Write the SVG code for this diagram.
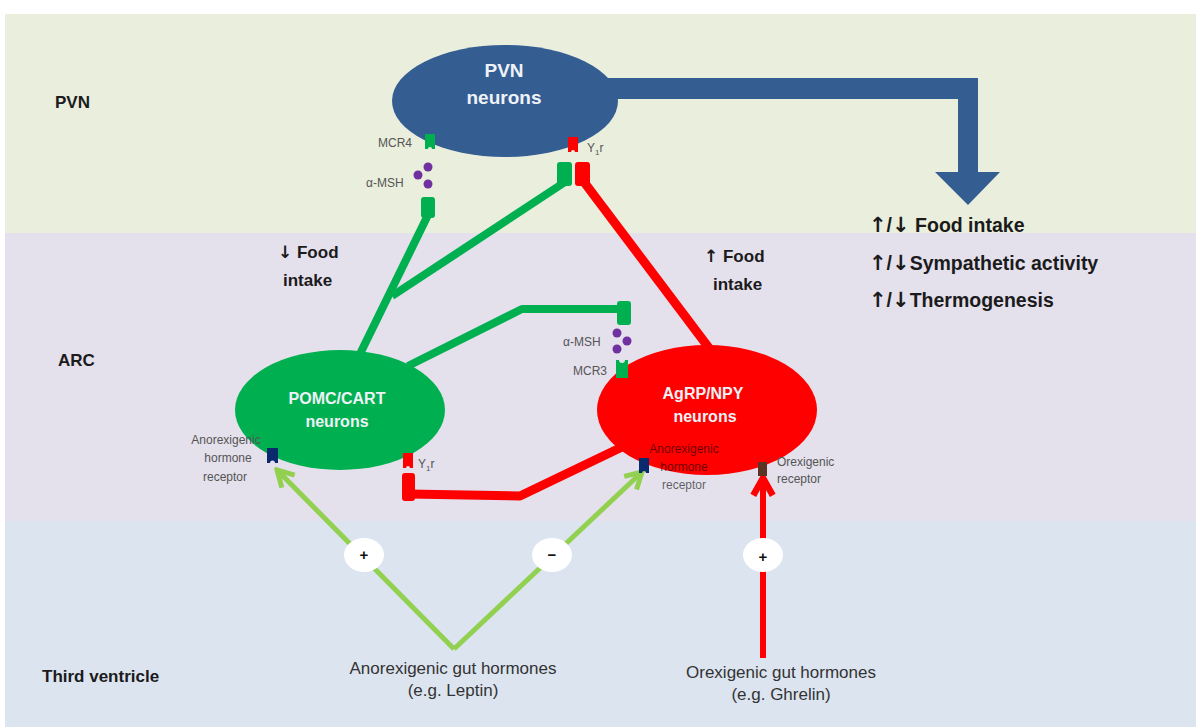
<svg xmlns="http://www.w3.org/2000/svg" width="1198" height="727" viewBox="0 0 1198 727">
<style>
.bold{font-family:"Liberation Sans",Arial,sans-serif;font-weight:bold;font-size:17px;fill:#1b1b1b}
.right{font-size:19.5px}
.arw{font-family:"DejaVu Sans",sans-serif;font-weight:bold}
.arw2{font-family:"DejaVu Sans",sans-serif;font-weight:bold;font-size:21px}
.ntext{font-family:"Liberation Sans",Arial,sans-serif;font-weight:bold;fill:#eef2f7;text-anchor:middle}
.small{font-family:"Liberation Sans",Arial,sans-serif;font-size:12px;fill:#555}
.gut{font-family:"Liberation Sans",Arial,sans-serif;font-size:17px;fill:#333;text-anchor:middle}
.sign{font-family:"Liberation Sans",Arial,sans-serif;font-weight:bold;font-size:15px;fill:#111;text-anchor:middle}
.gline{fill:none;stroke:#00B050;stroke-width:8;stroke-linejoin:round}
.rline{fill:none;stroke:#FF0000;stroke-width:9;stroke-linejoin:round}
.lg{fill:none;stroke:#92D050;stroke-width:5}
.msh{fill:#7030A0}
</style>
<defs>
<marker id="lgArrow" viewBox="0 0 24 24" refX="21" refY="12" markerWidth="24" markerHeight="24" markerUnits="userSpaceOnUse" orient="auto">
<path d="M5,3 L21,12 L5,21" fill="none" stroke="#92D050" stroke-width="5"/>
</marker>
<marker id="rArrow" viewBox="0 0 24 24" refX="21" refY="12" markerWidth="26" markerHeight="26" markerUnits="userSpaceOnUse" orient="auto">
<path d="M5,3 L21,12 L5,21" fill="none" stroke="#FF0000" stroke-width="6"/>
</marker>
</defs>

<g id="bands">
<rect x="5" y="14" width="1191" height="219" fill="#EAEEDD"/>
<rect x="5" y="233" width="1191" height="288" fill="#E4E0EC"/>
<rect x="5" y="521" width="1191" height="206" fill="#DCE4F0"/>
<text class="bold" x="55" y="108">PVN</text>
<text class="bold" x="58" y="366">ARC</text>
<text class="bold" x="42" y="682">Third ventricle</text>
</g>

<g id="connectors">
<polygon id="pvn-output" points="600,78 978,78 978,172 1000,172 968,205 935,172 958,172 958,99 600,99" fill="#345D92"/>
<polyline class="gline" points="428,215 358,358"/>
<polyline class="gline" points="392,296 565,182"/>
<polyline class="gline" points="408,366 522,309 624,309"/>
<polyline class="rline" points="584,182 712,352"/>
<polyline class="rline" points="408,494 520,496 622,447"/>
<line class="lg" x1="454" y1="649" x2="277" y2="470" marker-end="url(#lgArrow)"/>
<line class="lg" x1="454" y1="649" x2="642" y2="472" marker-end="url(#lgArrow)"/>
<line x1="763" y1="658" x2="763" y2="478" stroke="#FF0000" stroke-width="6" marker-end="url(#rArrow)"/>
</g>

<g id="pvn-node">
<ellipse cx="505" cy="101" rx="113" ry="56" fill="#345D92"/>
<text class="ntext" x="504" y="77" font-size="19">PVN</text>
<text class="ntext" x="504" y="104" font-size="19">neurons</text>
</g>

<g id="pomc-node">
<ellipse cx="340" cy="410" rx="105" ry="60" fill="#00B050"/>
<text class="ntext" x="337" y="404" font-size="16">POMC/CART</text>
<text class="ntext" x="337" y="427" font-size="16">neurons</text>
</g>

<g id="agrp-node">
<ellipse cx="707" cy="410" rx="110" ry="65" fill="#FF0000"/>
<text class="ntext" x="703" y="399" font-size="16">AgRP/NPY</text>
<text class="ntext" x="705" y="422" font-size="16">neurons</text>
</g>

<g id="pvn-receptors">
<path d="M425,134 h10 v15 h-3 a2,2 0 0 0 -4,0 h-3 z" fill="#00B050"/>
<text class="small" x="378" y="147">MCR4</text>
<circle class="msh" cx="428" cy="167" r="4.5"/>
<circle class="msh" cx="418" cy="175" r="4.5"/>
<circle class="msh" cx="428" cy="184" r="4.5"/>
<text class="small" x="366" y="187">α-MSH</text>
<rect x="421" y="197" width="14" height="21" rx="3" fill="#00B050"/>
<path d="M568,137 h10 v15 h-3 a2,2 0 0 0 -4,0 h-3 z" fill="#FF0000"/>
<text class="small" x="587" y="152" font-size="13">Y<tspan font-size="8" dy="3">1</tspan><tspan dy="-3">r</tspan></text>
<rect x="557" y="162" width="15" height="24" rx="3" fill="#00B050"/>
<rect x="575" y="162" width="15" height="24" rx="3" fill="#FF0000"/>
</g>

<g id="arc-receptors">
<rect x="617" y="301" width="14" height="24" rx="3" fill="#00B050"/>
<circle class="msh" cx="617" cy="333" r="4.5"/>
<circle class="msh" cx="627" cy="341" r="4.5"/>
<circle class="msh" cx="617" cy="349" r="4.5"/>
<text class="small" x="563" y="346">α-MSH</text>
<path d="M616,378 h12 v-18 h-3 a3,3 0 0 1 -6,0 h-3 z" fill="#00B050"/>
<text class="small" x="573" y="375">MCR3</text>

<path d="M267,448 h11 v15 h-3 a2.5,2.5 0 0 0 -5,0 h-3 z" fill="#0A2A6E"/>
<text class="small" x="226" y="444" text-anchor="middle">Anorexigenic</text>
<text class="small" x="228" y="462" text-anchor="middle">hormone</text>
<text class="small" x="225" y="481" text-anchor="middle">receptor</text>

<path d="M403,453 h10 v15 h-3 a2,2 0 0 0 -4,0 h-3 z" fill="#FF0000"/>
<text class="small" x="418" y="468" font-size="13">Y<tspan font-size="8" dy="3">1</tspan><tspan dy="-3">r</tspan></text>
<rect x="402" y="473" width="13" height="28" rx="3" fill="#FF0000"/>

<path d="M639,458 h10 v15 h-3 a2,2 0 0 0 -4,0 h-3 z" fill="#0A2A6E"/>
<g fill="#000" fill-opacity="0.6">
<text class="small" x="684" y="453" text-anchor="middle" style="fill:#000">Anorexigenic</text>
<text class="small" x="684" y="471" text-anchor="middle" style="fill:#000">hormone</text>
<text class="small" x="684" y="489" text-anchor="middle" style="fill:#000">receptor</text>
</g>

<path d="M758,462 h9 v14 h-9 z" fill="#5B3426"/>
<text class="small" x="777" y="466">Orexigenic</text>
<text class="small" x="777" y="483">receptor</text>
</g>

<g id="signs">
<ellipse cx="364" cy="555" rx="20" ry="17" fill="#fff"/>
<text class="sign" x="364" y="560">+</text>
<ellipse cx="552" cy="555" rx="20" ry="17" fill="#fff"/>
<text class="sign" x="552" y="560">−</text>
<ellipse cx="763" cy="555" rx="20" ry="17" fill="#fff"/>
<text class="sign" x="763" y="562">+</text>
</g>

<g id="labels">
<text class="bold" x="278" y="258"><tspan class="arw">↓</tspan> Food</text>
<text class="bold" x="283" y="286">intake</text>
<text class="bold" x="704" y="262"><tspan class="arw">↑</tspan> Food</text>
<text class="bold" x="713" y="290">intake</text>
<text class="bold right" x="869" y="232"><tspan class="arw2">↑</tspan>/<tspan class="arw2">↓</tspan> Food intake</text>
<text class="bold right" x="869" y="270"><tspan class="arw2">↑</tspan>/<tspan class="arw2">↓</tspan>Sympathetic activity</text>
<text class="bold right" x="869" y="307"><tspan class="arw2">↑</tspan>/<tspan class="arw2">↓</tspan>Thermogenesis</text>
<text class="gut" x="453" y="674">Anorexigenic gut hormones</text>
<text class="gut" x="453" y="696">(e.g. Leptin)</text>
<text class="gut" x="781" y="678">Orexigenic gut hormones</text>
<text class="gut" x="781" y="700">(e.g. Ghrelin)</text>
</g>
</svg>
